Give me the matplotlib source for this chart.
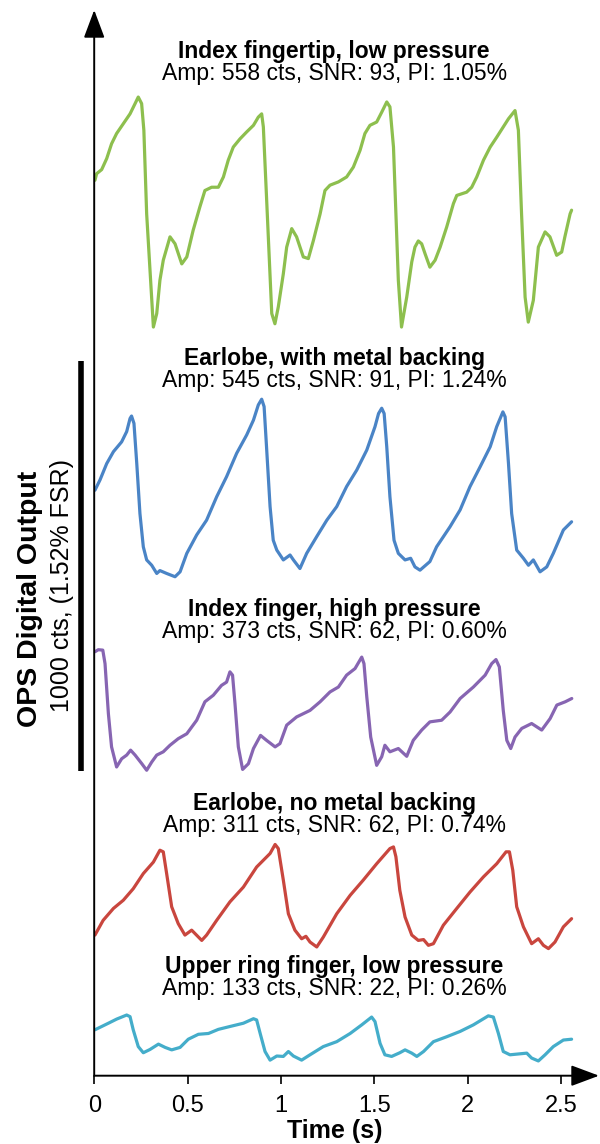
import matplotlib
matplotlib.use("Agg")
import matplotlib.pyplot as plt
import numpy as np

plt.rcParams['font.family'] = ['Liberation Sans', 'DejaVu Sans']

# ---------------- data (time in s, signal in counts above each trace's minimum) ----------------
green_t = [0.004, 0.013, 0.040, 0.067, 0.093, 0.120, 0.156, 0.192, 0.219, 0.236, 0.254, 0.266, 0.281,
           0.317, 0.335, 0.352, 0.370, 0.406, 0.433, 0.469, 0.496, 0.530, 0.566, 0.593, 0.629, 0.665,
           0.692, 0.718, 0.745, 0.781, 0.817, 0.853, 0.879, 0.897, 0.906, 0.923, 0.951, 0.968, 0.986,
           1.013, 1.031, 1.058, 1.084, 1.120, 1.147, 1.174, 1.210, 1.236, 1.263, 1.308, 1.352, 1.388,
           1.424, 1.450, 1.477, 1.513, 1.540, 1.567, 1.584, 1.603, 1.629, 1.646, 1.674, 1.701, 1.718,
           1.736, 1.754, 1.772, 1.798, 1.826, 1.853, 1.888, 1.924, 1.942, 1.995, 2.022, 2.049, 2.085,
           2.121, 2.156, 2.191, 2.219, 2.254, 2.272, 2.289, 2.308, 2.325, 2.352, 2.379, 2.415, 2.441,
           2.477, 2.504, 2.521, 2.549, 2.557]
green_v = [358, 374, 384, 411, 447, 472, 496, 520, 545, 561, 545, 480, 276,
           0, 33, 114, 163, 220, 203, 154, 171, 236, 293, 333, 341, 341,
           366, 407, 439, 459, 476, 492, 512, 520, 488, 317, 33, 8, 49,
           130, 195, 240, 220, 171, 167, 211, 276, 333, 346, 354, 366, 390,
           431, 472, 492, 500, 524, 549, 537, 439, 114, 0, 73, 159, 195,
           210, 203, 179, 146, 163, 195, 244, 301, 321, 329, 341, 366, 407,
           439, 463, 488, 508, 528, 480, 276, 73, 12, 65, 195, 232, 220,
           175, 183, 220, 276, 285]

blue_t = [0.004, 0.031, 0.067, 0.103, 0.147, 0.174, 0.192, 0.200, 0.213, 0.228, 0.245, 0.263, 0.281,
          0.308, 0.335, 0.352, 0.388, 0.433, 0.460, 0.496, 0.549, 0.602, 0.656, 0.709, 0.763, 0.817,
          0.853, 0.879, 0.897, 0.910, 0.923, 0.942, 0.959, 0.978, 1.013, 1.049, 1.067, 1.102, 1.138,
          1.192, 1.246, 1.299, 1.352, 1.406, 1.460, 1.504, 1.523, 1.540, 1.553, 1.567, 1.584, 1.606,
          1.629, 1.665, 1.695, 1.718, 1.745, 1.798, 1.834, 1.906, 1.960, 2.013, 2.067, 2.121, 2.156,
          2.189, 2.201, 2.219, 2.236, 2.263, 2.299, 2.326, 2.352, 2.388, 2.424, 2.459, 2.513, 2.557]
blue_v = [211, 236, 276, 305, 329, 354, 386, 392, 374, 276, 154, 73, 41,
          28, 8, 15, 8, 0, 12, 57, 102, 138, 195, 244, 301, 346,
          382, 419, 433, 415, 317, 171, 89, 65, 41, 53, 41, 20, 57,
          98, 138, 171, 220, 260, 309, 366, 398, 411, 398, 317, 195, 89,
          57, 41, 45, 24, 16, 37, 73, 122, 163, 220, 268, 317, 366,
          402, 390, 276, 154, 65, 45, 28, 41, 12, 24, 57, 114, 134]

purple_t = [0.004, 0.022, 0.046, 0.058, 0.076, 0.093, 0.120, 0.147, 0.174, 0.195, 0.219, 0.255, 0.281,
            0.308, 0.335, 0.370, 0.406, 0.450, 0.496, 0.549, 0.593, 0.638, 0.682, 0.709, 0.727, 0.741,
            0.754, 0.772, 0.795, 0.826, 0.853, 0.891, 0.923, 0.969, 0.995, 1.031, 1.084, 1.156, 1.210,
            1.263, 1.308, 1.352, 1.397, 1.433, 1.445, 1.460, 1.481, 1.513, 1.540, 1.557, 1.584, 1.629,
            1.674, 1.709, 1.754, 1.798, 1.861, 1.906, 1.960, 2.031, 2.094, 2.129, 2.152, 2.170, 2.191,
            2.210, 2.231, 2.254, 2.290, 2.343, 2.397, 2.442, 2.478, 2.523, 2.558]
purple_v = [289, 294, 293, 260, 138, 57, 8, 28, 37, 49, 37, 16, 0,
            20, 37, 45, 61, 77, 89, 122, 167, 183, 207, 215, 240, 232,
            163, 57, 2, 16, 53, 85, 73, 57, 65, 110, 130, 146, 167,
            191, 203, 232, 248, 276, 260, 179, 81, 12, 33, 61, 45, 53,
            34, 73, 98, 118, 122, 142, 175, 203, 232, 260, 270, 252, 146,
            73, 53, 81, 102, 114, 98, 126, 159, 167, 175]

red_t = [0.004, 0.048, 0.103, 0.156, 0.209, 0.263, 0.317, 0.352, 0.370, 0.388, 0.415, 0.450, 0.486,
         0.522, 0.576, 0.602, 0.656, 0.727, 0.799, 0.870, 0.942, 0.969, 0.986, 1.013, 1.040, 1.075,
         1.111, 1.134, 1.156, 1.192, 1.227, 1.299, 1.371, 1.441, 1.513, 1.584, 1.603, 1.616, 1.637,
         1.665, 1.701, 1.736, 1.764, 1.790, 1.817, 1.870, 1.942, 2.013, 2.085, 2.156, 2.206, 2.224,
         2.242, 2.263, 2.299, 2.343, 2.379, 2.406, 2.433, 2.468, 2.513, 2.557]
red_v = [33, 69, 98, 118, 146, 183, 211, 240, 236, 183, 102, 61, 33,
         45, 20, 33, 69, 114, 150, 199, 232, 254, 244, 167, 85, 45,
         24, 30, 16, 4, 28, 85, 130, 167, 207, 244, 248, 224, 142,
         77, 33, 20, 22, 8, 12, 57, 98, 138, 175, 207, 236, 236,
         191, 102, 53, 12, 24, 8, 0, 16, 53, 73]

cyan_t = [0.004, 0.040, 0.076, 0.120, 0.174, 0.192, 0.209, 0.236, 0.263, 0.299, 0.344, 0.380, 0.415,
          0.460, 0.504, 0.558, 0.612, 0.665, 0.727, 0.799, 0.853, 0.870, 0.889, 0.915, 0.942, 0.978,
          1.013, 1.040, 1.067, 1.111, 1.156, 1.227, 1.299, 1.371, 1.433, 1.486, 1.504, 1.531, 1.557,
          1.593, 1.637, 1.665, 1.701, 1.728, 1.764, 1.817, 1.888, 1.960, 2.031, 2.111, 2.138, 2.165,
          2.191, 2.227, 2.272, 2.317, 2.343, 2.379, 2.415, 2.459, 2.513, 2.557]
cyan_v = [76, 84, 92, 102, 112, 108, 76, 35, 20, 28, 41, 33, 27,
          33, 53, 65, 67, 77, 84, 92, 103, 100, 67, 23, 2, 12,
          11, 23, 12, 2, 15, 35, 47, 67, 88, 107, 96, 43, 15,
          11, 20, 27, 19, 11, 23, 47, 59, 72, 88, 110, 107, 67,
          23, 15, 17, 19, 7, 0, 15, 35, 51, 53]

trace_offsets = [1826, 1217, 745, 310, 36]   # counts, vertical stacking of traces
trace_colors = ['#8dbf4e', '#4a84c6', '#8765b2', '#c9463e', '#44adca']
titles = ['Index fingertip, low pressure', 'Earlobe, with metal backing',
          'Index finger, high pressure', 'Earlobe, no metal backing',
          'Upper ring finger, low pressure']
subtitles = ['Amp: 558 cts, SNR: 93, PI: 1.05%', 'Amp: 545 cts, SNR: 91, PI: 1.24%',
             'Amp: 373 cts, SNR: 62, PI: 0.60%', 'Amp: 311 cts, SNR: 62, PI: 0.74%',
             'Amp: 133 cts, SNR: 22, PI: 0.26%']
title_y = [2483, 1733, 1121, 649, 251]
subtitle_y = [2429, 1679, 1067, 595, 197]
xticks = [0, 0.5, 1, 1.5, 2, 2.5]
xticklabels = ['0', '0.5', '1', '1.5', '2', '2.5']
scalebar_counts = 1000

traces_t = [green_t, blue_t, purple_t, red_t, cyan_t]
traces_v = [green_v, blue_v, purple_v, red_v, cyan_v]

# ---------------- figure ----------------
W, H = 600, 1144
x0_px, y0_px = 94.2, 1075.7      # axes origin (pixels from top-left)
px_per_s, px_per_ct = 186.7, 0.41
right_px, top_px = 599, 10

fig = plt.figure(figsize=(W / 100, H / 100), dpi=100)
ax = fig.add_axes([x0_px / W, (H - y0_px) / H, (right_px - x0_px) / W, (y0_px - top_px) / H])
ax.set_xlim(0, (right_px - x0_px) / px_per_s)
ax.set_ylim(0, (y0_px - top_px) / px_per_ct)

for t, v, off, c in zip(traces_t, traces_v, trace_offsets, trace_colors):
    ax.plot(t, np.array(v) + off, color=c, lw=2.3, solid_joinstyle='round', solid_capstyle='round')

xc = 1.285
for s, y in zip(titles, title_y):
    ax.text(xc, y, s, ha='center', va='baseline', fontsize=16.5, fontweight='bold')
for s, y in zip(subtitles, subtitle_y):
    ax.text(xc, y, s, ha='center', va='baseline', fontsize=16.5)

for sp in ax.spines.values():
    sp.set_visible(False)

arrow_style = '-|>,head_length=1.15,head_width=0.43'
for tip in [(1, 0), (0, 1)]:
    ax.annotate('', xy=tip, xytext=(0, 0), xycoords='axes fraction', textcoords='axes fraction',
                arrowprops=dict(arrowstyle=arrow_style, mutation_scale=15, lw=1.4, color='k',
                                shrinkA=0, shrinkB=0))

ax.set_xticks(xticks)
ax.set_xticklabels(xticklabels, fontsize=17)
ax.tick_params(axis='x', direction='out', length=6, width=1.2, pad=8)
ax.set_yticks([])

# scale bar (1000 counts)
ax.plot([-0.0707, -0.0707], [742, 742 + scalebar_counts], color='k', lw=4, clip_on=False,
        solid_capstyle='butt')

fig.text(30 / W, 1 - 599 / H, 'OPS Digital Output', rotation=90, ha='center', va='center',
         fontsize=20.5, fontweight='bold')
fig.text(62 / W, 1 - 585 / H, '1000 cts, (1.52% FSR)', rotation=90, ha='center', va='center',
         fontsize=18)
fig.text(335 / W, 1 - 1131 / H, 'Time (s)', ha='center', va='center', fontsize=18,
         fontweight='bold')

fig.savefig('out.png', dpi=100)
